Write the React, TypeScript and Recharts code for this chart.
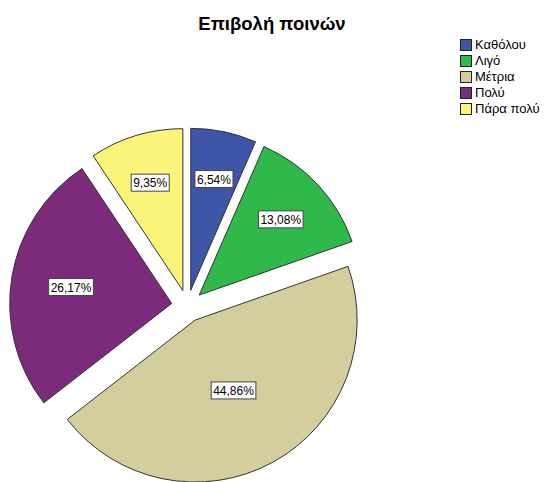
import { PieChart, Pie, Cell, Legend } from "recharts";

const categories = ["Καθόλου", "Λιγό", "Μέτρια", "Πολύ", "Πάρα πολύ"];
const counts = [7, 14, 48, 28, 10];
const colors = ["#3E55A8", "#2EB94A", "#D3CE9B", "#7B2A7C", "#FAF57A"];
const title = "Επιβολή ποινών";

const data = categories.map((name, i) => ({ name, value: counts[i] }));
const total = counts.reduce((a, b) => a + b, 0);

const CX = 187.5;
const CY = 306;
const R = 162;
const EXPLODE = 16;
const RAD = Math.PI / 180;

// centre of each exploded copy, shifted along its slice bisector
const offsets = counts.map((v, i) => {
  const before = counts.slice(0, i).reduce((a, b) => a + b, 0);
  const mid = 90 - (360 * (before + v / 2)) / total;
  return { x: CX + EXPLODE * Math.cos(mid * RAD), y: CY - EXPLODE * Math.sin(mid * RAD) };
});

const charW = (c: string) => (c === "," ? 3.34 : c === "%" ? 10.67 : 6.67);

const pctText = (v: number) => ((v / total) * 100).toFixed(2).replace(".", ",") + "%";

function makeLabel(slice: number) {
  return (props: any) => {
    const { cx, cy, midAngle, outerRadius, index, value } = props;
    if (index !== slice) return null;
    // roughly the sector centroid
    const a = ((value / total) * 2 * Math.PI) / 2;
    const r = ((2 * outerRadius * Math.sin(a)) / (3 * a)) * 1.06;
    const x = cx + r * Math.cos(-midAngle * RAD);
    const y = cy + r * Math.sin(-midAngle * RAD);
    const txt = pctText(value);
    const w = txt.split("").reduce((s, c) => s + charW(c), 0) + 4;
    const h = 17;
    return (
      <g key={`lbl-${slice}`}>
        <rect x={x - w / 2} y={y - h / 2} width={w} height={h} fill="#fff" stroke="#444" strokeWidth={1} />
        <text x={x} y={y + 4.5} textAnchor="middle" fontSize={12} fill="#000">
          {txt}
        </text>
      </g>
    );
  };
}

function LegendBox() {
  return (
    <div style={{ fontSize: 13, lineHeight: "16px", color: "#000" }}>
      {categories.map((c, i) => (
        <div key={c} style={{ display: "flex", alignItems: "center", height: 16 }}>
          <span
            style={{
              width: 10,
              height: 10,
              background: colors[i],
              border: "1px solid #222",
              marginRight: 3,
              display: "inline-block",
              flexShrink: 0,
            }}
          />
          <span style={{ whiteSpace: "nowrap" }}>{c}</span>
        </div>
      ))}
    </div>
  );
}

export default function App() {
  return (
    <div
      style={{
        position: "absolute",
        left: 0,
        top: 0,
        width: 544,
        height: 482,
        background: "#fff",
        fontFamily: "'Liberation Sans', Arial, sans-serif",
      }}
    >
      <div
        style={{
          position: "absolute",
          top: 13,
          left: 0,
          width: 544,
          textAlign: "center",
          fontWeight: "bold",
          fontSize: 18.5,
          color: "#000",
        }}
      >
        {title}
      </div>
      <PieChart width={544} height={482} margin={{ top: 0, right: 0, bottom: 0, left: 0 }}>
        {offsets.map((o, s) => (
          <Pie
            key={s}
            data={data}
            dataKey="value"
            nameKey="name"
            cx={o.x}
            cy={o.y}
            outerRadius={R}
            startAngle={90}
            endAngle={-270}
            isAnimationActive={false}
            labelLine={false}
            label={makeLabel(s)}
            legendType="none"
          >
            {data.map((d, i) => (
              <Cell
                key={d.name}
                fill={i === s ? colors[i] : "none"}
                stroke={i === s ? "#333" : "none"}
                strokeWidth={1}
              />
            ))}
          </Pie>
        ))}
        <Legend
          content={() => <LegendBox />}
          wrapperStyle={{ position: "absolute", top: 37, left: 460, width: 84 }}
        />
      </PieChart>
    </div>
  );
}
